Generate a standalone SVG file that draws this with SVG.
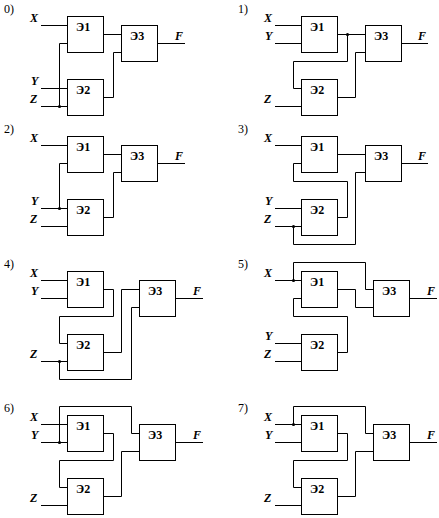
<svg xmlns="http://www.w3.org/2000/svg" width="439" height="518" viewBox="0 0 439 518">
<style>
.b{fill:#fff;stroke:#000;stroke-width:1}
.w{fill:none;stroke:#000;stroke-width:1}
.d{fill:#000}
text{font-family:"Liberation Serif","Times New Roman",serif;fill:#000;font-size:12px}
.t{font-weight:bold}
.v{font-weight:bold;font-style:italic}
</style>
<rect width="439" height="518" fill="#fff"/>
<g id="connectors">
<path class="w" d="M41 25.5H67.5M41 88.5H67.5M41 106.5H67.5M59.5 106.5V43.5H67.5M103.5 34.5H121.5M103.5 97.5H113.5V52.5H121.5M157.5 43.5H185"/>
<circle class="d" cx="59.5" cy="106.5" r="1.6"/>
<path class="w" d="M275 25.5H301.5M275 43.5H301.5M275 106.5H301.5M337.5 34.5H365.5M347.5 34.5V61.5H293.5V88.5H301.5M337.5 97.5H355.5V52.5H365.5M401.5 43.5H428"/>
<circle class="d" cx="347.5" cy="34.5" r="1.6"/>
<path class="w" d="M41 145.5H67.5M41 208.5H67.5M41 226.5H67.5M59.5 208.5V163.5H67.5M103.5 154.5H121.5M103.5 217.5H113.5V172.5H121.5M157.5 163.5H185"/>
<circle class="d" cx="59.5" cy="208.5" r="1.6"/>
<path class="w" d="M275 145.5H301.5M275 208.5H301.5M275 226.5H301.5M337.5 154.5H365.5M301.5 163.5H293.5V181.5H347.5V217.5H337.5M293.5 226.5V244.5H355.5V172.5H365.5M401.5 163.5H428"/>
<circle class="d" cx="293.5" cy="226.5" r="1.6"/>
<path class="w" d="M41 280.5H67.5M41 298.5H67.5M41 361.5H67.5M103.5 289.5H113.5V316.5H59.5V343.5H67.5M59.5 361.5V379.5H131.5V307.5H139.5M103.5 352.5H121.5V289.5H139.5M175.5 298.5H203"/>
<circle class="d" cx="59.5" cy="361.5" r="1.6"/>
<path class="w" d="M275 280.5H301.5M293.5 280.5V262.5H365.5V289.5H373.5M337.5 289.5H355.5V307.5H373.5M301.5 298.5H293.5V316.5H347.5V352.5H337.5M275 343.5H301.5M275 361.5H301.5M409.5 298.5H437"/>
<circle class="d" cx="293.5" cy="280.5" r="1.6"/>
<path class="w" d="M41 424.5H67.5M41 442.5H67.5M59.5 442.5V406.5H131.5V433.5H139.5M103.5 433.5H113.5V460.5H59.5V487.5H67.5M41 505.5H67.5M103.5 496.5H121.5V451.5H139.5M175.5 442.5H203"/>
<circle class="d" cx="59.5" cy="442.5" r="1.6"/>
<path class="w" d="M275 424.5H301.5M275 442.5H301.5M293.5 424.5V406.5H365.5V433.5H373.5M337.5 433.5H347.5V460.5H293.5V487.5H301.5M275 505.5H301.5M337.5 496.5H355.5V451.5H373.5M409.5 442.5H437"/>
<circle class="d" cx="293.5" cy="424.5" r="1.6"/>
</g>
<g id="p0-e1"><rect class="b" x="67.5" y="16.5" width="36" height="36"/><text class="t" x="76" y="30.5">Э1</text></g>
<g id="p0-e2"><rect class="b" x="67.5" y="79.5" width="36" height="36"/><text class="t" x="76" y="93.5">Э2</text></g>
<g id="p0-e3"><rect class="b" x="121.5" y="25.5" width="36" height="36"/><text class="t" x="130" y="39.5">Э3</text></g>
<g id="p1-e1"><rect class="b" x="301.5" y="16.5" width="36" height="36"/><text class="t" x="310" y="30.5">Э1</text></g>
<g id="p1-e2"><rect class="b" x="301.5" y="79.5" width="36" height="36"/><text class="t" x="310" y="93.5">Э2</text></g>
<g id="p1-e3"><rect class="b" x="365.5" y="25.5" width="36" height="36"/><text class="t" x="374" y="39.5">Э3</text></g>
<g id="p2-e1"><rect class="b" x="67.5" y="136.5" width="36" height="36"/><text class="t" x="76" y="150.5">Э1</text></g>
<g id="p2-e2"><rect class="b" x="67.5" y="199.5" width="36" height="36"/><text class="t" x="76" y="213.5">Э2</text></g>
<g id="p2-e3"><rect class="b" x="121.5" y="145.5" width="36" height="36"/><text class="t" x="130" y="159.5">Э3</text></g>
<g id="p3-e1"><rect class="b" x="301.5" y="136.5" width="36" height="36"/><text class="t" x="310" y="150.5">Э1</text></g>
<g id="p3-e2"><rect class="b" x="301.5" y="199.5" width="36" height="36"/><text class="t" x="310" y="213.5">Э2</text></g>
<g id="p3-e3"><rect class="b" x="365.5" y="145.5" width="36" height="36"/><text class="t" x="374" y="159.5">Э3</text></g>
<g id="p4-e1"><rect class="b" x="67.5" y="271.5" width="36" height="36"/><text class="t" x="76" y="285.5">Э1</text></g>
<g id="p4-e2"><rect class="b" x="67.5" y="334.5" width="36" height="36"/><text class="t" x="76" y="348.5">Э2</text></g>
<g id="p4-e3"><rect class="b" x="139.5" y="280.5" width="36" height="36"/><text class="t" x="148" y="294.5">Э3</text></g>
<g id="p5-e1"><rect class="b" x="301.5" y="271.5" width="36" height="36"/><text class="t" x="310" y="285.5">Э1</text></g>
<g id="p5-e2"><rect class="b" x="301.5" y="334.5" width="36" height="36"/><text class="t" x="310" y="348.5">Э2</text></g>
<g id="p5-e3"><rect class="b" x="373.5" y="280.5" width="36" height="36"/><text class="t" x="382" y="294.5">Э3</text></g>
<g id="p6-e1"><rect class="b" x="67.5" y="415.5" width="36" height="36"/><text class="t" x="76" y="429.5">Э1</text></g>
<g id="p6-e2"><rect class="b" x="67.5" y="478.5" width="36" height="36"/><text class="t" x="76" y="492.5">Э2</text></g>
<g id="p6-e3"><rect class="b" x="139.5" y="424.5" width="36" height="36"/><text class="t" x="148" y="438.5">Э3</text></g>
<g id="p7-e1"><rect class="b" x="301.5" y="415.5" width="36" height="36"/><text class="t" x="310" y="429.5">Э1</text></g>
<g id="p7-e2"><rect class="b" x="301.5" y="478.5" width="36" height="36"/><text class="t" x="310" y="492.5">Э2</text></g>
<g id="p7-e3"><rect class="b" x="373.5" y="424.5" width="36" height="36"/><text class="t" x="382" y="438.5">Э3</text></g>
<g id="labels">
<text x="4" y="13">0)</text><text x="238" y="13">1)</text><text x="4" y="133">2)</text><text x="238" y="133">3)</text><text x="4" y="268">4)</text><text x="238" y="268">5)</text><text x="4" y="412">6)</text><text x="238" y="412">7)</text>
<text class="v" x="30" y="22">X</text><text class="v" x="31" y="85">Y</text><text class="v" x="30" y="103">Z</text><text class="v" x="175" y="40">F</text>
<text class="v" x="264" y="22">X</text><text class="v" x="265" y="40">Y</text><text class="v" x="264" y="103">Z</text><text class="v" x="418" y="40">F</text>
<text class="v" x="30" y="142">X</text><text class="v" x="31" y="205">Y</text><text class="v" x="30" y="223">Z</text><text class="v" x="175" y="160">F</text>
<text class="v" x="264" y="142">X</text><text class="v" x="265" y="205">Y</text><text class="v" x="264" y="223">Z</text><text class="v" x="418" y="160">F</text>
<text class="v" x="30" y="277">X</text><text class="v" x="31" y="295">Y</text><text class="v" x="30" y="358">Z</text><text class="v" x="193" y="295">F</text>
<text class="v" x="264" y="277">X</text><text class="v" x="265" y="340">Y</text><text class="v" x="264" y="358">Z</text><text class="v" x="427" y="295">F</text>
<text class="v" x="30" y="421">X</text><text class="v" x="31" y="439">Y</text><text class="v" x="30" y="502">Z</text><text class="v" x="193" y="439">F</text>
<text class="v" x="264" y="421">X</text><text class="v" x="265" y="439">Y</text><text class="v" x="264" y="502">Z</text><text class="v" x="427" y="439">F</text>
</g>
</svg>
